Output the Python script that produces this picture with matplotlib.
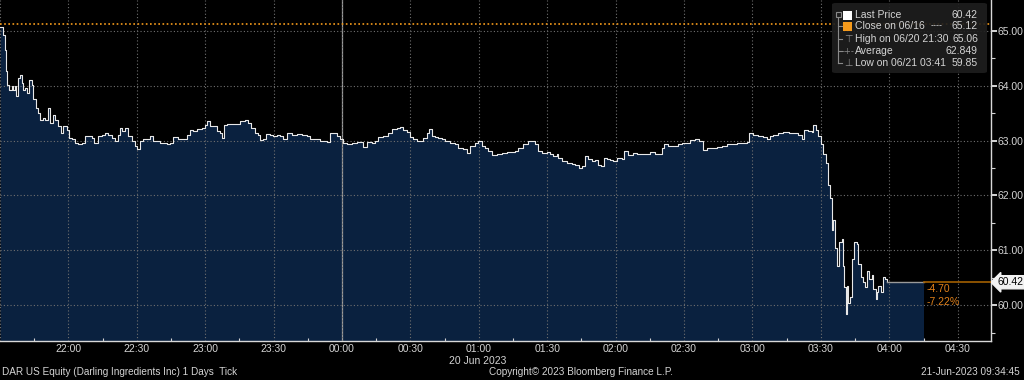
import matplotlib
matplotlib.use("Agg")
import matplotlib.pyplot as plt
import matplotlib.dates as mdates
from matplotlib.patches import FancyBboxPatch, Rectangle
from matplotlib.lines import Line2D
import pandas as pd

# tick prices (minutes after 21:30)
minutes = [
    0, 1.5, 2.2, 2.6, 3.2, 4.1, 5.1, 5.8, 6.6, 7.0, 8.0, 8.8, 9.5, 10.2, 11.0, 11.7,
    12.9, 13.9, 14.6, 15.8, 16.8, 17.5, 18.7, 19.7, 21.2, 21.9, 23.1, 24.1, 25.6,
    26.6, 27.8, 29.3, 30.4, 31.4, 32.9, 34.3, 35.8, 37.3, 38.7, 40.2, 41.4, 43.1,
    44.6, 46.1, 47.5, 49.0, 50.4, 51.9, 52.6, 53.4, 54.8, 56.3, 57.8, 59.2, 60.0,
    61.4, 62.9, 64.3, 65.8, 67.2, 68.7, 70.2, 71.6, 73.1, 74.6,
    76.0, 78.2, 80.4, 81.9, 83.3, 84.8, 86.3, 88.5, 89.9, 90.7, 92.1, 93.6, 95.0,
    96.5, 97.2, 98.2, 99.4, 101.6, 103.8, 105.3, 107.5, 108.9, 110.0, 111.8, 113.3,
    114.0, 115.5, 116.7, 118.4, 119.9, 121.4, 122.8, 124.0, 125.0, 126.0, 127.9,
    130.1, 132.3, 134.5, 136.0, 137.4, 138.9, 140.4, 141.8, 143.3, 144.7, 146.2,
    147.7, 149.1, 150.6, 152.1, 154.3, 156.4,
    159.4, 160.8, 163.0, 164.5, 165.9, 168.1, 170.3, 171.8, 174.0, 175.4, 176.9,
    178.4, 179.8, 181.3, 182.8, 184.2, 185.7, 187.1, 188.3, 189.3, 190.8, 192.2,
    193.7, 195.2, 197.4, 199.6, 201.0, 203.2, 204.7, 206.1, 208.3, 209.8, 211.3,
    212.7, 214.2, 215.6, 217.8, 220.0, 222.2, 224.4, 225.9, 227.3, 229.5, 231.7,
    233.2, 234.7, 236.1, 237.6, 239.8,
    241.2, 242.7, 244.2, 244.9, 246.4, 248.5, 250.7, 252.2, 253.7, 255.1, 256.6,
    258.0, 259.5, 261.0, 262.4, 263.6, 264.9, 266.1, 267.5, 269.0, 270.5, 272.7,
    273.7, 275.6, 277.5, 279.3, 280.7, 282.9, 285.1, 287.3, 288.7, 290.2, 291.2,
    293.1, 295.3, 297.5, 299.0, 301.2, 302.6, 304.8, 306.7, 308.5, 310.0, 312.2,
    314.3, 316.5, 318.7, 320.9, 323.1,
    325.3, 327.5, 328.6, 330.4, 332.6, 334.8, 336.3, 337.7, 339.2, 341.4, 343.6,
    345.8, 348.0, 350.1, 351.6, 352.6, 354.5, 356.0, 356.7, 357.9, 358.9, 360.0,
    361.1, 362.1, 362.9, 363.2, 364.0, 364.8, 365.5, 366.2, 367.0, 368.1, 369.2,
    369.9, 370.2, 370.8, 371.4, 372.1, 372.8, 373.5, 374.7, 375.7, 376.4, 377.5,
    378.6, 379.4, 380.4, 381.3, 382.3, 383.0, 384.2, 384.5, 385.2, 386.3, 387.1,
    388.1, 388.9,
]
prices = [
    65.06, 64.93, 64.65, 64.26, 64.02, 63.93, 63.99, 63.93, 63.99, 63.81, 64.14, 64.20,
    64.05, 63.93, 63.96, 63.87, 64.11, 64.02, 63.75, 63.59, 63.50, 63.38, 63.41, 63.38,
    63.59, 63.32, 63.47, 63.38, 63.26, 63.14, 63.26, 63.20, 63.05, 63.02, 62.96, 62.93,
    62.96, 63.09, 63.08, 63.05, 62.96, 63.08, 63.11, 63.14, 63.11, 63.05, 62.99, 63.11,
    63.23, 63.17, 63.23, 63.08, 62.99, 62.90, 62.84, 62.99, 63.02, 63.02, 63.08, 62.99,
    62.99, 62.96, 62.96, 62.93, 62.96,
    63.07, 63.03, 63.02, 63.11, 63.20, 63.17, 63.21, 63.23, 63.29, 63.35, 63.27, 63.26,
    63.17, 63.14, 63.05, 63.29, 63.31, 63.31, 63.31, 63.35, 63.37, 63.32, 63.23, 63.14,
    63.11, 63.01, 63.03, 63.12, 63.11, 63.08, 63.11, 63.09, 63.02, 63.03, 63.14, 63.11,
    63.12, 63.11, 63.08, 63.03, 63.03, 63.02, 62.99, 62.99, 62.97, 63.14, 63.13, 63.08,
    63.02, 62.96, 62.94, 62.96, 62.97,
    62.89, 62.97, 62.96, 62.99, 63.07, 63.08, 63.14, 63.21, 63.23, 63.25, 63.20, 63.15,
    63.07, 63.02, 62.99, 62.99, 63.05, 63.14, 63.21, 63.08, 63.07, 63.05, 63.03, 62.99,
    62.96, 62.93, 62.87, 62.84, 62.78, 62.90, 62.96, 62.99, 62.91, 62.87, 62.81, 62.73,
    62.75, 62.78, 62.79, 62.79, 62.81, 62.87, 62.93, 62.99, 62.99, 62.93, 62.81, 62.78,
    62.79,
    62.75, 62.71, 62.75, 62.69, 62.62, 62.59, 62.58, 62.56, 62.50, 62.53, 62.71, 62.67,
    62.62, 62.65, 62.56, 62.53, 62.69, 62.67, 62.65, 62.62, 62.69, 62.67, 62.81, 62.73,
    62.78, 62.76, 62.75, 62.75, 62.79, 62.75, 62.75, 62.87, 62.93, 62.91, 62.91, 62.93,
    62.95, 62.96, 63.01, 63.03, 62.99, 62.82, 62.87, 62.87, 62.88, 62.91, 62.93, 62.93,
    62.96,
    62.96, 62.97, 63.14, 63.11, 63.09, 63.07, 63.03, 63.08, 63.11, 63.13, 63.15, 63.14,
    63.13, 63.11, 63.03, 63.19, 63.17, 63.15, 63.29, 63.19, 63.08, 62.93, 62.75, 62.59,
    62.44, 62.20, 61.96, 61.38, 61.56, 61.05, 60.71, 61.16, 61.20, 60.71, 60.33, 59.85,
    60.35, 60.05, 60.16, 60.84, 61.15, 61.11, 60.75, 60.51, 60.42, 60.33, 60.62, 60.47,
    60.56, 60.29, 60.11, 60.25, 60.35, 60.24, 60.51, 60.47, 60.42,
]

session_start = pd.Timestamp("2023-06-20 21:30")
fill_end_min = 405          # shaded area stops at 04:15
view_end_min = 434.6
y_min, y_max = 59.35, 65.56
last_price = 60.42
prev_close = 65.12
change_txt = ["-4.70", "-7.22%"]

legend_rows = [
    ("Last Price", "60.42"),
    ("Close on 06/16", "65.12"),
    ("High on 06/20 21:30", "65.06"),
    ("Average", "62.849"),
    ("Low on 06/21 03:41", "59.85"),
]

BG = "#000000"
FILL = "#0a213f"
TXT = "#d4d4d4"
ORANGE = "#f59a1b"
FONT = "Liberation Sans"

times = session_start + pd.to_timedelta(minutes, unit="min")
t_fill = session_start + pd.Timedelta(minutes=fill_end_min)
t_end = session_start + pd.Timedelta(minutes=view_end_min)

fig = plt.figure(figsize=(10.24, 3.8), dpi=100, facecolor=BG)
ax = fig.add_axes([0, 39 / 380, 991 / 1024, 341 / 380], facecolor=BG)

xs = list(times) + [t_fill]
ys = list(prices) + [last_price]

ax.fill_between(xs, ys, y_min, step="post", color=FILL, lw=0, zorder=1)
ax.plot(xs[:-1], ys[:-1], drawstyle="steps-post", color="#e8e8e8", lw=0.8, zorder=4)
ax.plot([xs[-2], t_fill], [last_price, last_price], color="#9a9a9a", lw=1.0, zorder=4)
ax.plot([t_fill, t_end], [last_price, last_price], color="#a35f00", lw=1.2, zorder=4)
ax.axhline(prev_close, color=ORANGE, lw=1.2, ls=(0, (1, 1.5)), zorder=3)

ax.set_xlim(session_start, t_end)
ax.set_ylim(y_min, y_max)


def hhmm(v, pos):
    t = mdates.num2date(v)
    if t.hour == 21 and t.minute == 30:
        return ""
    return t.strftime("%H:%M")


# grid
ax.xaxis.set_major_locator(mdates.MinuteLocator(byminute=[0, 30]))
ax.xaxis.set_minor_locator(mdates.MinuteLocator(byminute=[15, 45]))
ax.xaxis.set_major_formatter(matplotlib.ticker.FuncFormatter(hhmm))
ax.set_yticks([60, 61, 62, 63, 64, 65])
ax.set_yticks([59.5, 60.5, 61.5, 62.5, 63.5, 64.5], minor=True)
ax.yaxis.set_major_formatter(matplotlib.ticker.FormatStrFormatter("%.2f"))
ax.grid(True, which="major", color="#707070", lw=0.8, ls=(0, (1, 2)), zorder=2)
ax.set_axisbelow(False)
midnight = pd.Timestamp("2023-06-21 00:00")
ax.axvline(midnight, color="#9c9c9c", lw=0.9, zorder=2)

ax.yaxis.tick_right()
ax.tick_params(axis="y", which="major", colors=TXT, labelsize=7.5, length=4,
               width=1.4, pad=1)
ax.tick_params(axis="y", which="minor", colors=TXT, length=3, width=0.8)
ax.tick_params(axis="x", which="major", colors=TXT, labelsize=7.5, length=0, pad=2.5)
ax.tick_params(axis="x", which="minor", colors=TXT, length=2, width=0.8,
               direction="in")
for lab in ax.get_xticklabels() + ax.get_yticklabels():
    lab.set_fontfamily(FONT)

for side in ("left", "top"):
    ax.spines[side].set_visible(False)
for side in ("right", "bottom"):
    ax.spines[side].set_color("#d8d8d8")
    ax.spines[side].set_linewidth(1.0)

# last price tag
ax.annotate(f"{last_price:.2f}", xy=(1.0, last_price),
            xycoords=("axes fraction", "data"), xytext=(5, 0),
            textcoords="offset points", ha="left", va="center", fontsize=7.5,
            color="#000000", family=FONT, annotation_clip=False,
            bbox=dict(boxstyle="larrow,pad=0.15", fc="#f2f2f2", ec="#f2f2f2"))
ax.text(0.935, 0.152, change_txt[0], transform=ax.transAxes, color="#e0801a",
        fontsize=7.5, family=FONT, va="center")
ax.text(0.935, 0.114, change_txt[1], transform=ax.transAxes, color="#e0801a",
        fontsize=7.5, family=FONT, va="center")


def fx(px):
    return px / 1024


def fy(py):
    return 1 - py / 380


# legend box
fig.patches.append(FancyBboxPatch((fx(832), fy(73)), fx(155), 70 / 380,
                                  boxstyle="round,pad=0,rounding_size=0.004",
                                  transform=fig.transFigure, fc="#1e1e1e",
                                  ec="none", alpha=0.92, zorder=5))
row_y = [15, 26, 39, 51, 63]
tree = "#8a8a8a"
fig.lines.append(Line2D([fx(838), fx(838)], [fy(17), fy(63)], color=tree, lw=0.8,
                        transform=fig.transFigure, zorder=6))
fig.patches.append(Rectangle((fx(835.5), fy(17)), fx(5), 5 / 380, fc="#1e1e1e",
                             ec=tree, lw=0.8, transform=fig.transFigure, zorder=7))
for i, (name, val) in enumerate(legend_rows):
    y = fy(row_y[i])
    if i > 0:
        fig.lines.append(Line2D([fx(838), fx(842)], [y, y], color=tree, lw=0.8,
                                transform=fig.transFigure, zorder=6))
    if i < 2:
        c = "#ffffff" if i == 0 else ORANGE
        fig.patches.append(Rectangle((fx(843), y - 4.5 / 380), fx(9), 9 / 380,
                                     fc=c, ec="none", transform=fig.transFigure,
                                     zorder=6))
    elif i == 2:
        fig.text(fx(848), y, "⊤", color=tree, fontsize=7, ha="center",
                 va="center", zorder=6)
    elif i == 3:
        fig.text(fx(848), y, "-+-", color=tree, fontsize=6, ha="center",
                 va="center", zorder=6)
    else:
        fig.text(fx(848), y, "⊥", color=tree, fontsize=7, ha="center",
                 va="center", zorder=6)
    fig.text(fx(855), y, name, color=TXT, fontsize=7.5, family=FONT,
             va="center", zorder=6)
    fig.text(fx(978), y, val, color=TXT, fontsize=7.5, family=FONT,
             ha="right", va="center", zorder=6)
fig.text(fx(931), fy(row_y[1]), "----", color=TXT, fontsize=6.5, family=FONT,
         va="center", zorder=6)

# footer
fig.text(fx(478), fy(361.5), "20 Jun 2023", color=TXT, fontsize=7.5, family=FONT,
         ha="center", va="center")
fig.text(fx(2), fy(372), "DAR US Equity (Darling Ingredients Inc) 1 Days  Tick",
         color=TXT, fontsize=7.2, family=FONT, va="center")
fig.text(fx(581), fy(372), "Copyright\u00a9 2023 Bloomberg Finance L.P.",
         color=TXT, fontsize=7.2, family=FONT, ha="center", va="center")
fig.text(fx(1020), fy(372), "21-Jun-2023 09:34:45", color=TXT, fontsize=7.2,
         family=FONT, ha="right", va="center")

fig.savefig("out.png", dpi=100, facecolor=BG)
